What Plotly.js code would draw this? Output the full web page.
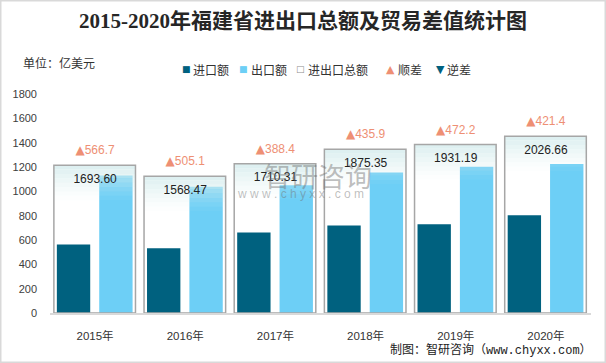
<!DOCTYPE html>
<html>
<head>
<meta charset="utf-8">
<script src="https://cdn.plot.ly/plotly-3.0.1.min.js"></script>
<style>
html,body{margin:0;padding:0;background:#fff;}
#chart{width:606px;height:363px;}
</style>
</head>
<body>
<div id="chart"></div>
<script>
// ---- data ----
const years = ['2015年', '2016年', '2017年', '2018年', '2019年', '2020年'];
const importVals = [563.5, 531.7, 661.0, 719.7, 729.5, 802.6];
const exportVals = [1130.2, 1036.8, 1049.4, 1155.6, 1201.7, 1224.0];
const totalVals = [1693.60, 1568.47, 1710.31, 1875.35, 1931.19, 2026.66];
const surplusVals = [566.7, 505.1, 388.4, 435.9, 472.2, 421.4];
const yTicks = [0, 200, 400, 600, 800, 1000, 1200, 1400, 1600, 1800];
const legendNames = ['进口额', '出口额', '进出口总额', '顺差', '逆差'];
const legendGlyphs = ['■', '■', '□', '▲', '▼'];

// ---- styles ----
const W = 606, H = 363;
const M = {l: 50, r: 15, t: 94, b: 50};
const pw = W - M.l - M.r, ph = H - M.t - M.b;
const cImport = '#00617F', cExport = '#6DCFF6', cBox = '#A6A6A6', cUp = '#EE8F74', cDown = '#00617F';
const numFont = 'Liberation Sans, Arial, Noto Sans CJK SC, sans-serif';
const cjkFont = 'Noto Sans CJK SC, Liberation Sans, sans-serif';
const glyphFont = 'DejaVu Sans, sans-serif';

const traces = [];
// bars
traces.push({type: 'bar', name: '进口额', x: years, y: importVals, offset: -0.424, width: 0.37,
  marker: {color: cImport}, hoverinfo: 'y'});
traces.push({type: 'bar', name: '出口额', x: years, y: exportVals, offset: 0.046, width: 0.37,
  marker: {color: cExport}, hoverinfo: 'y'});

// gradient bands at the top of total boxes (secondary axis)
const nBands = 8, band = 50;
const alphas = [0.85, 0.72, 0.58, 0.45, 0.33, 0.22, 0.13, 0.05];
for (let i = 0; i < nBands; i++) {
  traces.push({type: 'bar', x: years, y: totalVals.map(() => band),
    base: totalVals.map(v => v - (i + 1) * band), yaxis: 'y2',
    offset: -0.457, width: 0.905,
    marker: {color: 'rgba(216,237,238,' + alphas[i] + ')', line: {width: 0}},
    hoverinfo: 'skip'});
}
// total box
traces.push({type: 'bar', name: '进出口总额', x: years, y: totalVals, yaxis: 'y2', offset: -0.457, width: 0.905,
  marker: {color: 'rgba(255,255,255,0)', line: {color: cBox, width: 1.5}}, hoverinfo: 'y'});
// total labels
traces.push({type: 'scatter', mode: 'markers+text', x: years, y: totalVals, yaxis: 'y2',
  text: totalVals.map(v => v.toFixed(2)), textposition: 'bottom center',
  marker: {size: 12, opacity: 0}, textfont: {family: numFont, size: 12, color: '#222'},
  hoverinfo: 'skip', cliponaxis: false});
// surplus labels
traces.push({type: 'scatter', mode: 'markers+text', name: '顺差', x: years, y: totalVals, yaxis: 'y2',
  text: surplusVals.map(v => '<span style="font-family:DejaVu Sans;font-size:12px">▲</span>' + v.toFixed(1)),
  textposition: 'top center',
  marker: {size: 11, opacity: 0}, textfont: {family: numFont, size: 12, color: cUp},
  hoverinfo: 'skip', cliponaxis: false});

const px2x = p => (p - M.l) / pw;
const px2y = p => (H - M.b - p) / ph;

// legend drawn as text items
const legendSymX = [186, 243, 300, 390, 440];
const legendTxtX = [191, 249, 306, 396, 445];
const legendColors = [cImport, cExport, '#8C8C8C', cUp, cDown];
const legendSizes = [9, 9, 9, 11, 11];
const legendY = 69;
const legendAnn = [];
legendNames.forEach((n, i) => {
  legendAnn.push({text: legendGlyphs[i], xref: 'paper', yref: 'paper', x: px2x(legendSymX[i]), y: px2y(legendY),
    xanchor: 'center', yanchor: 'middle', showarrow: false,
    font: {family: glyphFont, size: legendSizes[i], color: legendColors[i]}});
  legendAnn.push({text: n, xref: 'paper', yref: 'paper', x: px2x(legendTxtX[i]), y: px2y(legendY),
    xanchor: 'left', yanchor: 'middle', showarrow: false,
    font: {family: cjkFont, size: 12, color: '#333'}});
});

const layout = {
  width: W, height: H,
  margin: {l: M.l, r: M.r, t: M.t, b: M.b, pad: 0},
  paper_bgcolor: '#fff', plot_bgcolor: '#fff',
  barmode: 'overlay',
  showlegend: false,
  font: {family: cjkFont, color: '#333'},
  title: {text: '2015-2020年福建省进出口总额及贸易差值统计图',
    font: {family: 'Liberation Serif, Noto Sans CJK SC, serif', size: 21, color: '#262626', weight: 'bold'},
    x: 0.5, xref: 'container', xanchor: 'center', y: 1 - 21 / H, yref: 'container', yanchor: 'middle'},
  xaxis: {type: 'category', categoryorder: 'array', categoryarray: years,
    range: [-0.5, years.length - 0.5],
    showline: true, linecolor: '#D9D9D9', linewidth: 1.5, ticks: '', showgrid: false,
    zeroline: false, tickfont: {family: numFont, size: 11.5, color: '#333'}, ticklabelstandoff: 12},
  yaxis: {range: [0, 1800], tickmode: 'array', tickvals: yTicks, ticktext: yTicks.map(String),
    showgrid: false, zeroline: false, showline: false, ticks: '',
    tickfont: {family: numFont, size: 11, color: '#404040'}, ticklabelstandoff: 12},
  yaxis2: {range: [0, 2510], overlaying: 'y', side: 'right', visible: false, showgrid: false, zeroline: false},
  annotations: legendAnn.concat([
    {text: '单位：亿美元', xref: 'paper', yref: 'paper', x: px2x(21), y: px2y(63), xanchor: 'left', yanchor: 'middle',
      showarrow: false, font: {family: cjkFont, size: 12, color: '#333'}},
    {text: '制图：智研咨询（www.chyxx.com）', xref: 'paper', yref: 'paper', x: px2x(594), y: px2y(350),
      xanchor: 'right', yanchor: 'middle', showarrow: false,
      font: {family: 'Liberation Mono, Noto Sans CJK SC, monospace', size: 12, color: '#222'}},
    {text: '智研咨询', xref: 'paper', yref: 'paper', x: px2x(318), y: px2y(175), xanchor: 'center', yanchor: 'middle',
      showarrow: false, font: {family: cjkFont, size: 27, color: 'rgba(110,110,110,0.45)'}},
    {text: 'w w w . c h y x x . c o m', xref: 'paper', yref: 'paper', x: px2x(300), y: px2y(194), xanchor: 'center', yanchor: 'middle',
      showarrow: false, font: {family: numFont, size: 12, color: 'rgba(110,110,110,0.45)'}}
  ]),
  shapes: [
    {type: 'rect', xref: 'paper', yref: 'paper', x0: px2x(0.75), x1: px2x(W - 0.75), y0: px2y(H - 0.75), y1: px2y(0.75),
      line: {color: '#D9D9D9', width: 1.5}, fillcolor: 'rgba(0,0,0,0)', layer: 'below'}
  ]
};

Plotly.newPlot('chart', traces, layout, {displayModeBar: false, staticPlot: true});
</script>
</body>
</html>
